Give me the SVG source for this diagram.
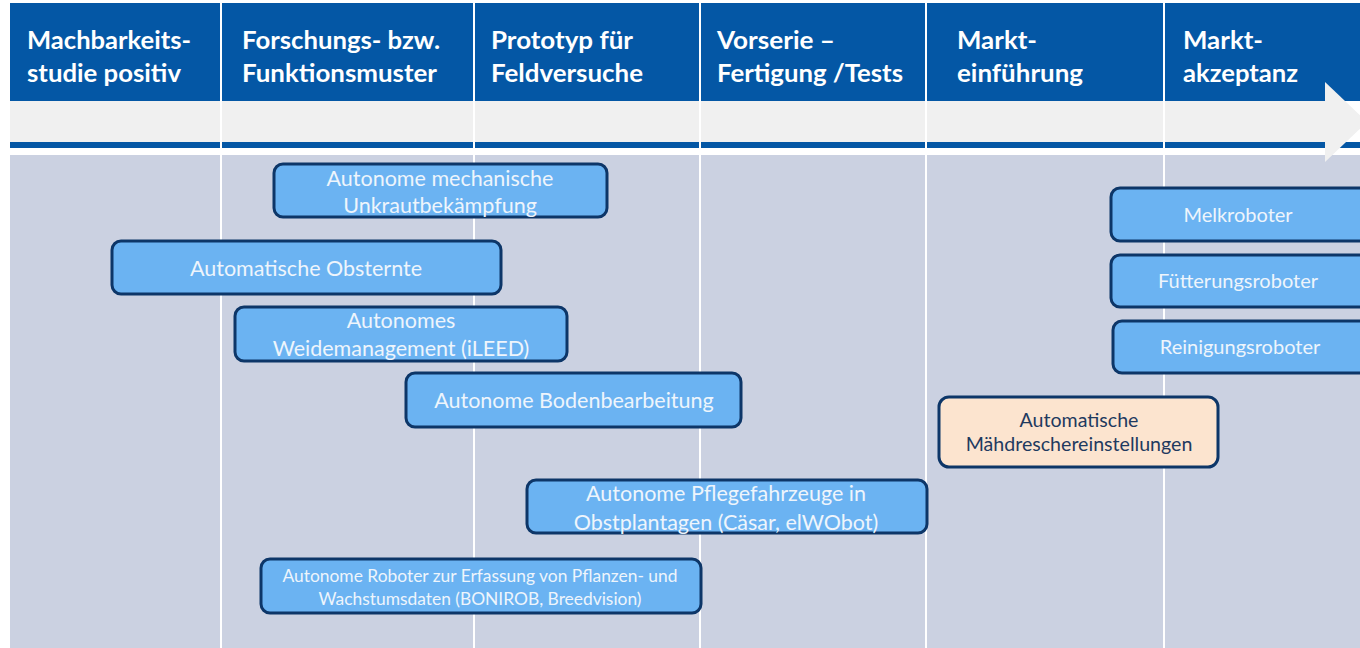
<svg xmlns="http://www.w3.org/2000/svg" width="1360" height="648" viewBox="0 0 1360 648">
<style>
.hdr{font-family:Lato,"Liberation Sans",sans-serif;font-weight:bold;font-size:24px;fill:#ffffff}
.box{fill:#6bb3f2;stroke:#0d3668;stroke-width:3}
.peach{fill:#fce4cf;stroke:#0d3668;stroke-width:3}
.t{font-family:Lato,"Liberation Sans",sans-serif;font-size:21.5px;fill:#eef5fc;text-anchor:middle}
.ts{font-family:Lato,"Liberation Sans",sans-serif;font-size:17.4px;fill:#eef5fc;text-anchor:middle}
.tm{font-family:Lato,"Liberation Sans",sans-serif;font-size:20px;fill:#eef5fc;text-anchor:middle}
.tp{font-family:Lato,"Liberation Sans",sans-serif;font-size:19.6px;fill:#1f3a5f;text-anchor:middle}
.sep{stroke:#ffffff;stroke-width:2}
</style>
<rect x="0" y="0" width="1360" height="648" fill="#ffffff"/>
<g id="background">
<rect x="10" y="3" width="1350" height="98" fill="#0457a5"/>
<rect x="10" y="155" width="1350" height="493" fill="#cbd1e1"/>
<rect x="10" y="142" width="1350" height="6" fill="#0457a5"/>
<rect x="10" y="101" width="1316" height="41" fill="#f0f0f0"/>
<polygon points="1325,82 1367,122 1325,162" fill="#f0f0f0"/>
<line class="sep" x1="221" y1="3" x2="221" y2="648"/>
<line class="sep" x1="474" y1="3" x2="474" y2="648"/>
<line class="sep" x1="700" y1="3" x2="700" y2="648"/>
<line class="sep" x1="926" y1="3" x2="926" y2="648"/>
<line class="sep" x1="1164" y1="3" x2="1164" y2="648"/>
</g>
<g id="headers">
<text class="hdr" x="27" y="49" textLength="164" lengthAdjust="spacingAndGlyphs">Machbarkeits-</text>
<text class="hdr" x="27" y="82" textLength="154" lengthAdjust="spacingAndGlyphs">studie positiv</text>
<text class="hdr" x="242" y="49" textLength="198" lengthAdjust="spacingAndGlyphs">Forschungs- bzw.</text>
<text class="hdr" x="242" y="82" textLength="195" lengthAdjust="spacingAndGlyphs">Funktionsmuster</text>
<text class="hdr" x="491" y="49" textLength="142" lengthAdjust="spacingAndGlyphs">Prototyp für</text>
<text class="hdr" x="491" y="82" textLength="152" lengthAdjust="spacingAndGlyphs">Feldversuche</text>
<text class="hdr" x="717" y="49" textLength="118" lengthAdjust="spacingAndGlyphs">Vorserie –</text>
<text class="hdr" x="717" y="82" textLength="186" lengthAdjust="spacingAndGlyphs">Fertigung /Tests</text>
<text class="hdr" x="957" y="49" textLength="80" lengthAdjust="spacingAndGlyphs">Markt-</text>
<text class="hdr" x="957" y="82" textLength="126" lengthAdjust="spacingAndGlyphs">einführung</text>
<text class="hdr" x="1183" y="49" textLength="80" lengthAdjust="spacingAndGlyphs">Markt-</text>
<text class="hdr" x="1183" y="82" textLength="115" lengthAdjust="spacingAndGlyphs">akzeptanz</text>
</g>
<g id="connectors"/>
<g id="n1">
<rect class="box" x="274" y="164" width="333" height="53" rx="9"/>
<text class="t" x="440" y="186">Autonome mechanische</text>
<text class="t" x="440" y="213">Unkrautbekämpfung</text>
</g>
<g id="n2">
<rect class="box" x="112" y="241" width="389" height="53" rx="9"/>
<text class="t" x="306" y="276">Automatische Obsternte</text>
</g>
<g id="n3">
<rect class="box" x="235" y="307" width="332" height="54" rx="9"/>
<text class="t" x="401" y="328">Autonomes</text>
<text class="t" x="401" y="356">Weidemanagement (iLEED)</text>
</g>
<g id="n4">
<rect class="box" x="406" y="373" width="335" height="54" rx="9"/>
<text class="t" x="574" y="408">Autonome Bodenbearbeitung</text>
</g>
<g id="n5">
<rect class="box" x="527" y="480" width="400" height="53" rx="9"/>
<text class="t" x="726" y="501">Autonome Pflegefahrzeuge in</text>
<text class="t" x="726" y="530">Obstplantagen (Cäsar, elWObot)</text>
</g>
<g id="n6">
<rect class="box" x="261" y="559" width="440" height="54" rx="9"/>
<text class="ts" x="480" y="582">Autonome Roboter zur Erfassung von Pflanzen- und</text>
<text class="ts" x="480" y="605">Wachstumsdaten (BONIROB, Breedvision)</text>
</g>
<g id="n7">
<rect class="box" x="1111" y="188" width="260" height="53" rx="9"/>
<text class="tm" x="1238" y="222">Melkroboter</text>
</g>
<g id="n8">
<rect class="box" x="1111" y="255" width="260" height="52" rx="9"/>
<text class="tm" x="1238" y="288">Fütterungsroboter</text>
</g>
<g id="n9">
<rect class="box" x="1113" y="321" width="258" height="52" rx="9"/>
<text class="tm" x="1240" y="354">Reinigungsroboter</text>
</g>
<g id="n10">
<rect class="peach" x="939" y="397" width="279" height="70" rx="10"/>
<text class="tp" x="1079" y="427">Automatische</text>
<text class="tp" x="1079" y="451">Mähdreschereinstellungen</text>
</g>
</svg>
